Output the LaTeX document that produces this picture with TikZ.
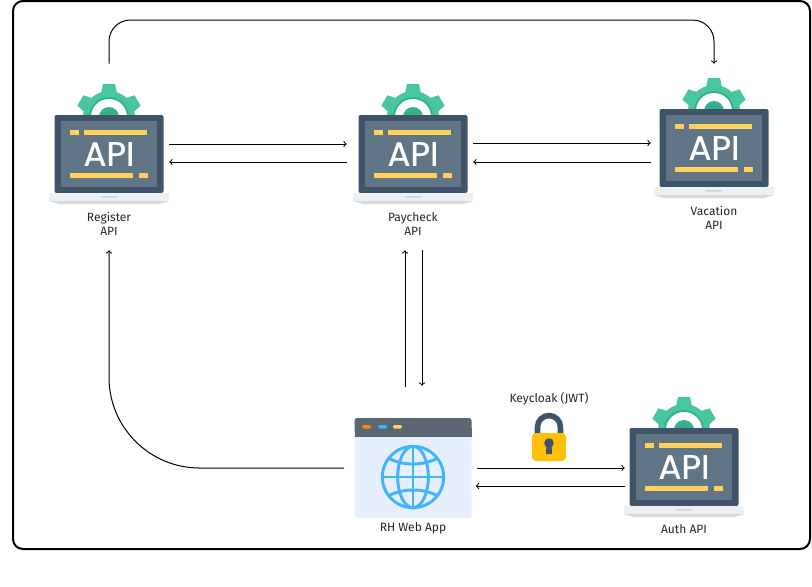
\documentclass[tikz,border=0pt]{standalone}
\usepackage{fontspec}
\setmainfont{Fira Sans}
\newfontfamily\apifont[FakeBold=0.6]{Poppins}
\usetikzlibrary{calc}
\definecolor{gearcol}{HTML}{48C79F}
\definecolor{ringcol}{HTML}{36AF91}
\definecolor{bodycol}{HTML}{3F5469}
\definecolor{screencol}{HTML}{607586}
\definecolor{barcol}{HTML}{FFD15C}
\definecolor{basecol}{HTML}{ECF0F2}
\definecolor{baselow}{HTML}{D5DADD}
\definecolor{globecol}{HTML}{42B4FF}
\definecolor{windowcol}{HTML}{E6EFFE}
\definecolor{headercol}{HTML}{5A6672}
\definecolor{lockcol}{HTML}{FFC107}
\tikzset{
  apibox/.style={minimum width=90pt,minimum height=135pt,inner sep=0pt},
  appbox/.style={minimum width=87.75pt,minimum height=75pt,inner sep=0pt},
  lockbox/.style={minimum width=25.5pt,minimum height=36pt,inner sep=0pt},
  lbl/.style={font=\fontsize{9}{10.5}\selectfont,align=center,text=black!85},
  flow/.style={->,black,line width=0.75pt},
  apilaptop/.pic={
    % gear behind the laptop
    \foreach \a in {30,90,150}
      \fill[gearcol,rotate around={\a-90:(0,-43)}] (-6,-76) -- (6,-76) -- (9,-62) -- (-9,-62) -- cycle;
    \fill[gearcol] (0,-43) circle (19.5pt);
    \fill[ringcol] (0,-43) circle (15pt);
    \fill[white] (0,-43) circle (13.5pt);
    \fill[ringcol] (0,-43) circle (7.5pt);
    % laptop
    \fill[bodycol,rounded corners=1.5pt] (-54.5,-45) rectangle (54.5,33);
    \fill[screencol] (-48,-39) rectangle (48,27);
    \fill[basecol] (-60,33) -- (60,33) -- (60,41) -- (50,44) -- (-50,44) -- (-60,41) -- cycle;
    \fill[baselow] (-60,41) -- (60,41) -- (50,44) -- (-50,44) -- cycle;
    \fill[baselow] (-8,36) rectangle (8,37.5);
    % bars
    \fill[barcol] (-39,-30) rectangle (-30,-25);
    \fill[barcol] (-25,-30) rectangle (38,-25);
    \fill[barcol] (-39,13) rectangle (24,18);
    \fill[barcol] (30,13) rectangle (39,18);
    \node[text=white,font=\apifont\fontsize{25.5}{26}\selectfont,inner sep=0pt] at (0,-6) {API};
  },
  webwindow/.pic={
    \fill[windowcol,rounded corners=2pt] (-58.5,-50) rectangle (58.5,50);
    \fill[headercol,rounded corners=2pt] (-58.5,-50) rectangle (58.5,-35);
    \fill[headercol] (-58.5,-40) rectangle (58.5,-31);
    \fill[orange!90!yellow,rounded corners=1pt] (-51,-43) rectangle (-42,-39.5);
    \fill[globecol,rounded corners=1pt] (-35,-43) rectangle (-26,-39.5);
    \fill[barcol,rounded corners=1pt] (-20,-43) rectangle (-11,-39.5);
    % globe
    \begin{scope}[globecol,line width=2.2pt]
      \draw (0,9) circle (23pt);
      \draw (0,9) ellipse (11.5pt and 23pt);
      \draw (0,-22) -- (0,40);
      \draw (-31,9) -- (31,9);
      \draw (-25,-10) .. controls (-10,-2) and (10,-2) .. (25,-10);
      \draw (-25,28) .. controls (-10,20) and (10,20) .. (25,28);
    \end{scope}
  },
  padlock/.pic={
    \draw[bodycol,line width=4.2pt] (-11.5,4) -- (-11.5,-10) arc[start angle=180,end angle=0,radius=8.6pt] -- (11.5,4);
    \fill[lockcol,rounded corners=3pt] (-17,-4) rectangle (17,24);
    \fill[bodycol] (0,6) circle (3.6pt);
    \fill[bodycol] (-2.5,6) -- (2.5,6) -- (3,17) -- (-3,17) -- cycle;
  }
}
\begin{document}
\begin{tikzpicture}[x=0.75pt,y=-0.75pt]
  \useasboundingbox (0,0) rectangle (812,586);
  % Frame
  \draw[black,line width=1.5pt,rounded corners=7.5pt] (13,1) rectangle (810,549);
  % Services
  \node[apibox] (register) at (109,160) {};
  \node[apibox] (paycheck) at (413,160) {};
  \node[apibox] (vacation) at (714,154) {};
  \node[apibox] (auth) at (684,473) {};
  \node[appbox] (app) at (413,468) {};
  \node[lockbox] (lock) at (549,437) {};
  \pic at (register) {apilaptop};
  \pic at (paycheck) {apilaptop};
  \pic at (vacation) {apilaptop};
  \pic at (auth) {apilaptop};
  \pic at (app) {webwindow};
  \pic at (lock) {padlock};
  % Labels
  \node[lbl] (registerlbl) at (109,224) {Register\\API};
  \node[lbl] (paychecklbl) at (413,224) {Paycheck\\API};
  \node[lbl] (vacationlbl) at (714,218) {Vacation\\API};
  \node[lbl] (authlbl) at (684,529) {Auth API};
  \node[lbl] (applbl) at (413,528) {RH Web App};
  \node[lbl] (locklbl) at (549,399) {Keycloak (JWT)};
  % Register <-> Paycheck
  \draw[flow] ($(register.east)+(0,-16)$) -- ($(paycheck.west)+(-6,-16)$);
  \draw[flow] ($(paycheck.west)+(-6,2)$) -- ($(register.east)+(0,2)$);
  % Paycheck <-> Vacation
  \draw[flow] ($(paycheck.east)+(0,-17)$) -- ($(vacation.west)+(-3,-11)$);
  \draw[flow] ($(vacation.west)+(-3,8)$) -- ($(paycheck.east)+(0,2)$);
  % Register to Vacation, over the top
  \draw[flow,rounded corners=16pt] ($(register.north)+(0,-6)$) |- (412,20) -| (vacation.north);
  % App <-> Paycheck
  \draw[flow] ($(app.north)+(-8,-31)$) -- ($(paycheck.south)+(-8,0)$);
  \draw[flow] ($(paycheck.south)+(9,0)$) -- ($(app.north)+(9,-32)$);
  % App to Register
  \draw[flow,rounded corners=68pt] ($(app.west)+(-10,0)$) -| (register.south);
  % App <-> Auth
  \draw[flow] ($(app.east)+(5,0)$) -- ($(auth.west)+(1,-5)$);
  \draw[flow] ($(auth.west)+(1,13)$) -- ($(app.east)+(4,18)$);
\end{tikzpicture}
\end{document}
